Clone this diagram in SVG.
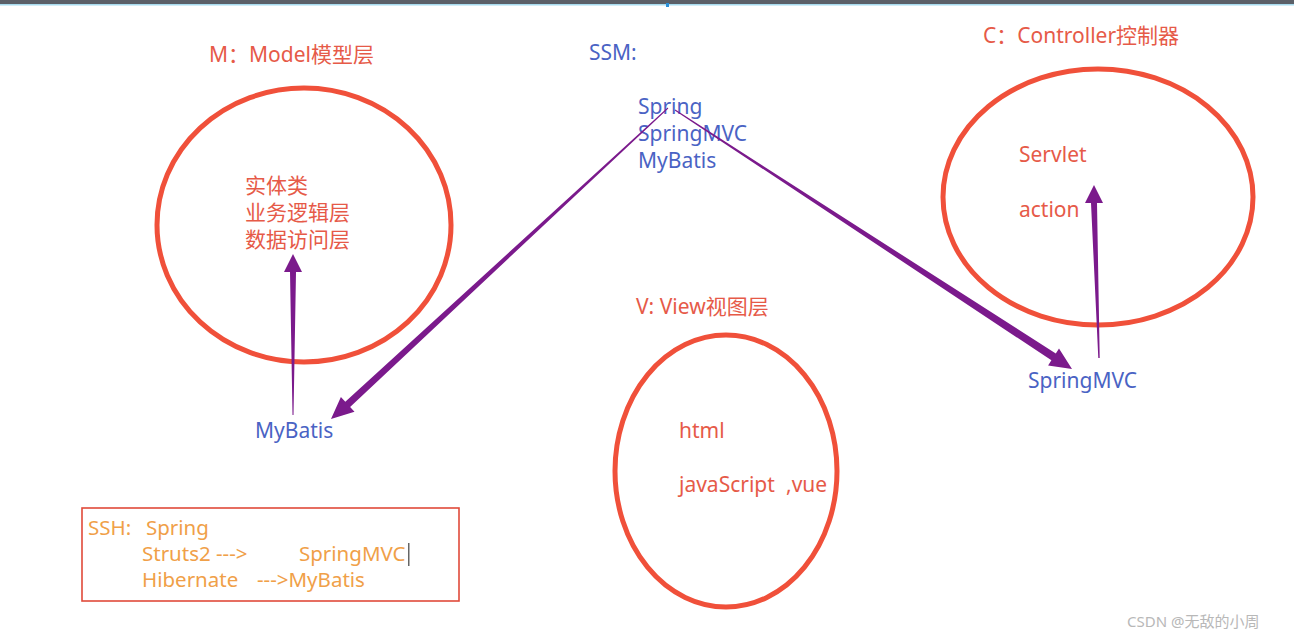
<svg xmlns="http://www.w3.org/2000/svg" width="1294" height="637" viewBox="0 0 1294 637">
<style>
text{font-family:"Noto Sans","Noto Sans CJK SC",sans-serif;font-size:21px}
.red{fill:#e65a48}
.blue{fill:#4a63c4}
.org{fill:#f0a048;font-size:20.5px}
.ell{fill:none;stroke:#f0503a;stroke-width:5}
.arr{fill:#7b1a8c}
.wm{fill:#b8b8b8;font-size:15px}
</style>
<rect x="0" y="0" width="1294" height="637" fill="#ffffff"/>
<rect x="0" y="0" width="1294" height="4" fill="#5b6068"/>
<rect x="0" y="4" width="1294" height="1.5" fill="#a8dcef"/>
<rect x="666" y="3" width="3" height="4" fill="#2a8fd8"/>

<g id="model">
<text class="red" x="209" y="62">M：Model模型层</text>
<ellipse class="ell" cx="304" cy="225" rx="147" ry="137"/>
<text class="red" x="245" y="193">实体类</text>
<text class="red" x="245" y="220">业务逻辑层</text>
<text class="red" x="245" y="247">数据访问层</text>
</g>

<g id="ssm">
<text class="blue" x="589" y="60">SSM:</text>
<text class="blue" x="638" y="114">Spring</text>
<text class="blue" x="638" y="141">SpringMVC</text>
<text class="blue" x="638" y="168">MyBatis</text>
</g>

<g id="controller">
<text class="red" x="983" y="43">C：Controller控制器</text>
<ellipse class="ell" cx="1098" cy="197" rx="155" ry="128"/>
<text class="red" x="1019" y="162">Servlet</text>
<text class="red" x="1019" y="217">action</text>
</g>

<g id="view">
<text class="red" x="636" y="314">V: View视图层</text>
<ellipse class="ell" cx="726" cy="471" rx="111" ry="136"/>
<text class="red" x="679" y="438">html</text>
<text class="red" x="679" y="492">javaScript<tspan x="786">,vue</tspan></text>
</g>

<g id="mybatis">
<text class="blue" x="255" y="438">MyBatis</text>
</g>

<g id="springmvc">
<text class="blue" x="1028" y="388">SpringMVC</text>
</g>

<g id="ssh">
<rect x="82" y="508" width="377" height="93" fill="none" stroke="#e04a3a" stroke-width="1.6"/>
<text class="org" x="88" y="535">SSH:<tspan x="146">Spring</tspan></text>
<text class="org" x="142" y="561">Struts2<tspan x="216">---&gt;</tspan><tspan x="299">SpringMVC</tspan></text>
<rect x="408" y="543" width="1.5" height="23" fill="#666"/>
<text class="org" x="142" y="587">Hibernate<tspan x="257">---&gt;MyBatis</tspan></text>
</g>

<g id="connectors">
<polygon class="arr" points="668.3,108.4 350.1,407 354.5,411.7 331,419 340.9,397.1 345.3,401.8 667.7,107.6"/>
<polygon class="arr" points="674.7,110.4 1051.4,360.3 1048.1,365.4 1072,369 1059,348.6 1055.8,353.6 675.3,109.6"/>
<polygon class="arr" points="292.5,415 290,272 284,272 293,254 302,272 296,272 293.5,415"/>
<polygon class="arr" points="1098.3,358 1091,203 1085,203 1094,185 1103,203 1097,203 1099.7,358"/>
</g>

<text class="wm" x="1127" y="627">CSDN @无敌的小周</text>
</svg>
